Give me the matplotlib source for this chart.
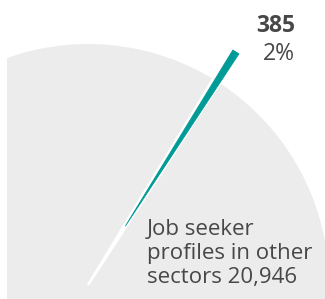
import matplotlib
matplotlib.use("Agg")
import matplotlib.pyplot as plt
import numpy as np
from matplotlib.patches import Wedge

# Dati
categories = ["Sector", "Job seeker profiles in other sectors"]
values = [385, 20946]
share_labels = ["2%"]

GREY = "#ececec"
TEAL = "#009b96"
TXT = "#474747"

fig = plt.figure(figsize=(3.25, 2.99), dpi=100)
ax = fig.add_axes([7 / 325, 0, 318 / 325, 1])
ax.set_xlim(7, 325)
ax.set_ylim(0, 299)
ax.axis("off")

# Centro e raggi della torta (in pixel, asse y verso l'alto)
cx, cy = 88, 14
r_main = 241
r_hi = 276
mid_angle = 57.6
sliver = 1.5

# Fetta grigia (totale)
ax.add_patch(Wedge((cx, cy), r_main, 0, 360, facecolor=GREY, edgecolor="none"))

# Separatore bianco lungo la fetta evidenziata
t1, t2 = mid_angle - sliver / 2, mid_angle + sliver / 2
ax.add_patch(Wedge((cx, cy), r_main + 5, t1, t2 + 0.4, facecolor="white",
                   edgecolor="white", linewidth=1.8))

# Fetta evidenziata: si assottiglia fino a una punta a ~70 px dal centro
off = 70
a = np.radians(mid_angle)
ox, oy = cx + off * np.cos(a), cy + off * np.sin(a)
span = 2.0
ax.add_patch(Wedge((ox, oy), r_hi - off, mid_angle - span / 2,
                   mid_angle + span / 2, facecolor=TEAL, edgecolor=TEAL,
                   linewidth=0.6, joinstyle="round"))

font = "Open Sans"
ax.text(295, 267, f"{values[0]:,}", ha="right", va="baseline", fontsize=16.5,
        fontweight="bold", color=TXT, family=font, clip_on=False)
ax.text(295, 239, share_labels[0], ha="right", va="baseline", fontsize=16.5,
        color=TXT, family=font, clip_on=False)
ax.text(147, 16, f"Job seeker\nprofiles in other\nsectors {values[1]:,}",
        ha="left", va="baseline", fontsize=16, color=TXT, family=font,
        linespacing=1.2, clip_on=False)

fig.savefig("out.png", dpi=100)
